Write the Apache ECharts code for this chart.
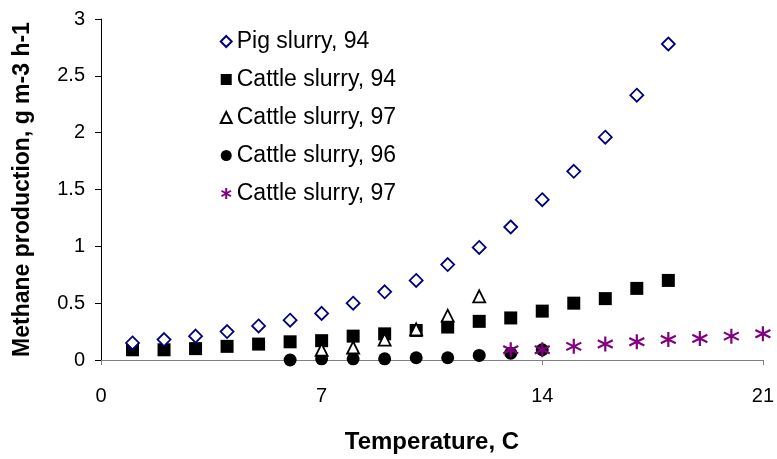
<!DOCTYPE html>
<html><head><meta charset="utf-8">
<script src="https://cdn.jsdelivr.net/npm/echarts@6/dist/echarts.min.js"></script>
<style>html,body{margin:0;padding:0;background:#fff}#c{width:777px;height:459px}</style>
</head><body><div id="c"></div>
<script>
var pigX = [1,2,3,4,5,6,7,8,9,10,11,12,13,14,15,16,17,18];
var pig94 = [0.15,0.18,0.21,0.25,0.30,0.35,0.41,0.50,0.60,0.70,0.84,0.99,1.17,1.41,1.66,1.96,2.33,2.78];
var cattle94X = [1,2,3,4,5,6,7,8,9,10,11,12,13,14,15,16,17,18];
var cattle94 = [0.09,0.09,0.10,0.12,0.14,0.16,0.17,0.21,0.23,0.26,0.29,0.34,0.37,0.43,0.50,0.54,0.63,0.70];
var cattle97aX = [7,8,9,10,11,12];
var cattle97a = [0.09,0.11,0.18,0.27,0.39,0.56];
var cattle96X = [6,7,8,9,10,11,12,13,14];
var cattle96 = [0.00,0.01,0.01,0.01,0.02,0.02,0.04,0.06,0.09];
var cattle97bX = [13,14,15,16,17,18,19,20,21];
var cattle97b = [0.09,0.09,0.12,0.14,0.16,0.18,0.19,0.21,0.23];
var names = ['Pig slurry, 94','Cattle slurry, 94','Cattle slurry, 97','Cattle slurry, 96','Cattle slurry, 97 '];

function pts(xs, ys){ return xs.map(function(x,i){return [x, ys[i]];}); }
var star = 'path://M5,0 L5,10 M0.7,2.5 L9.3,7.5 M0.7,7.5 L9.3,2.5';
var FF = 'Arial, "Liberation Sans", sans-serif';

var chart = echarts.init(document.getElementById('c'));
chart.setOption({
  animation: false,
  backgroundColor: '#fff',
  textStyle: {fontFamily: FF},
  grid: {left: 101, right: 10, top: 19, bottom: 95},
  legend: {
    orient: 'vertical', left: 214, top: 25, itemGap: 15,
    itemWidth: 11, itemHeight: 11,
    textStyle: {fontSize: 23, color: '#000', fontFamily: FF},
    data: names
  },
  xAxis: {
    type: 'value', min: 0, max: 21, interval: 7,
    name: 'Temperature, C', nameLocation: 'middle', nameGap: 70,
    nameTextStyle: {fontSize: 24, fontWeight: 'bold', color: '#000', fontFamily: FF},
    axisLine: {lineStyle: {color: '#808080', width: 1}},
    axisTick: {show: true, inside: false, length: 5, lineStyle: {color: '#808080'}},
    axisLabel: {fontSize: 20, color: '#000', margin: 26, fontFamily: FF},
    splitLine: {show: false}
  },
  yAxis: {
    type: 'value', min: 0, max: 3, interval: 0.5,
    name: 'Methane production, g m-3 h-1', nameLocation: 'middle', nameGap: 67,
    nameTextStyle: {fontSize: 23, fontWeight: 'bold', color: '#000', fontFamily: FF},
    axisLine: {show: true, lineStyle: {color: '#000', width: 1}},
    axisTick: {show: true, length: 6, lineStyle: {color: '#000'}},
    axisLabel: {fontSize: 20, color: '#000', margin: 16, fontFamily: FF},
    splitLine: {show: false}
  },
  series: [
    {name: names[0], type: 'scatter', data: pts(pigX, pig94), symbol: 'diamond', symbolSize: 13,
     itemStyle: {color: '#fff', borderColor: '#000080', borderWidth: 1.8, opacity: 1}, z: 5},
    {name: names[1], type: 'scatter', data: pts(cattle94X, cattle94), symbol: 'rect', symbolSize: 13,
     itemStyle: {color: '#000', opacity: 1}, z: 3},
    {name: names[2], type: 'scatter', data: pts(cattle97aX, cattle97a), symbol: 'triangle', symbolSize: 12,
     itemStyle: {color: '#fff', borderColor: '#000', borderWidth: 1.8, opacity: 1}, z: 4},
    {name: names[3], type: 'scatter', data: pts(cattle96X, cattle96), symbol: 'circle', symbolSize: 13,
     itemStyle: {color: '#000', opacity: 1}, z: 2},
    {name: names[4], type: 'scatter', data: pts(cattle97bX, cattle97b), symbol: star, symbolSize: 15,
     itemStyle: {color: 'none', borderColor: '#800080', borderWidth: 2.2, opacity: 1}, z: 6}
  ]
});
</script></body></html>
